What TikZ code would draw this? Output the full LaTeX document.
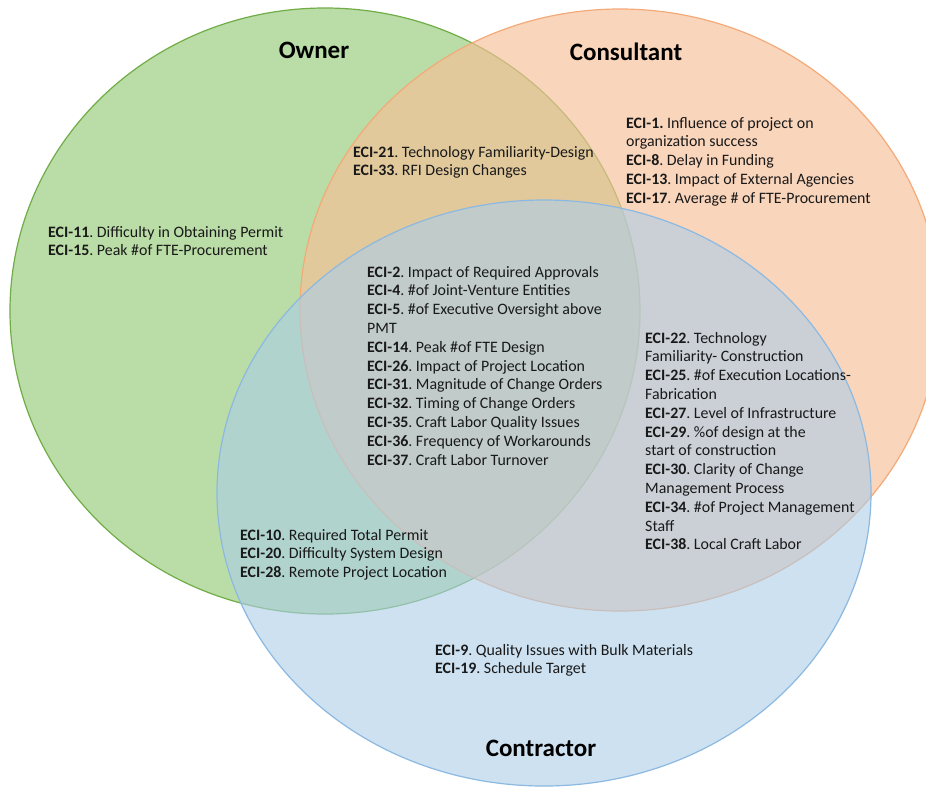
\documentclass[tikz,border=0pt]{standalone}
\usepackage{fontspec}
\setmainfont{Carlito}
\frenchspacing
\definecolor{gfill}{RGB}{186,220,166}
\definecolor{gline}{RGB}{112,173,71}
\definecolor{ofill}{RGB}{247,192,152}
\definecolor{oline}{RGB}{244,170,120}
\definecolor{bfill}{RGB}{172,205,233}
\definecolor{bline}{RGB}{140,185,225}
\definecolor{txt}{RGB}{25,25,25}
\newcommand\eci[2]{\hbox{\textbf{ECI-#1}. #2}}
\newcommand\cln[1]{\hbox{#1}}
\newcommand\blk[1]{\vtop{\baselineskip=18.8pt\lineskiplimit=-100pt\lineskip=0pt #1}}
\begin{document}
\begin{tikzpicture}[x=1pt,y=-1pt,
  item/.style={anchor=base west, inner sep=0pt, font=\fontsize{15.9}{18.8}\selectfont, text=txt},
  ttl/.style={anchor=base, inner sep=0pt, font=\fontsize{25}{30}\selectfont\bfseries, text=black},
  venn/.style={line width=1.2pt}]
\useasboundingbox (0,0) rectangle (926,788);
\fill[white] (0,0) rectangle (926,788);
\clip (0,0) rectangle (926,788);
% circles
\draw[venn, fill=gfill, draw=gline] (325,311) ellipse [x radius=315pt, y radius=303pt];
\draw[venn, fill=ofill, fill opacity=0.65, draw=oline] (620,310) ellipse [x radius=320pt, y radius=301pt];
\draw[venn, fill=bfill, fill opacity=0.6, draw=bline] (544,493) ellipse [x radius=327pt, y radius=293pt];
% titles
\node[ttl] (owner) at (314,58) {Owner};
\node[ttl] (consultant) at (626,60) {Consultant};
\node[ttl] (contractor) at (541,756) {Contractor};
% owner only
\node[item] (ow) at (48,237) {\blk{\eci{11}{Difficulty in Obtaining Permit}\eci{15}{Peak \#of FTE-Procurement}}};
% owner & consultant
\node[item] (oc) at (353,157) {\blk{\eci{21}{Technology Familiarity-Design}\eci{33}{RFI Design Changes}}};
% consultant only
\node[item] (co) at (626,128) {\blk{\hbox{\textbf{ECI-1.} Influence of project on}\cln{organization success}\eci{8}{Delay in Funding}\eci{13}{Impact of External Agencies}\eci{17}{Average \# of FTE-Procurement}}};
% all three
\node[item] (all) at (367,277) {\blk{\eci{2}{Impact of Required Approvals}\eci{4}{\#of Joint-Venture Entities}\eci{5}{\#of Executive Oversight above}\cln{PMT}\eci{14}{Peak \#of FTE Design}\eci{26}{Impact of Project Location}\eci{31}{Magnitude of Change Orders}\eci{32}{Timing of Change Orders}\eci{35}{Craft Labor Quality Issues}\eci{36}{Frequency of Workarounds}\eci{37}{Craft Labor Turnover}}};
% consultant & contractor
\node[item] (cc) at (645,343) {\blk{\eci{22}{Technology}\cln{Familiarity- Construction}\eci{25}{\#of Execution Locations-}\cln{Fabrication}\eci{27}{Level of Infrastructure}\eci{29}{\%of design at the}\cln{start of construction}\eci{30}{Clarity of Change}\cln{Management Process}\eci{34}{\#of Project Management}\cln{Staff}\eci{38}{Local Craft Labor}}};
% owner & contractor
\node[item] (oct) at (240,540) {\blk{\eci{10}{Required Total Permit}\eci{20}{Difficulty System Design}\eci{28}{Remote Project Location}}};
% contractor only
\node[item] (ct) at (435,655) {\blk{\eci{9}{Quality Issues with Bulk Materials}\eci{19}{Schedule Target}}};
\end{tikzpicture}
\end{document}
